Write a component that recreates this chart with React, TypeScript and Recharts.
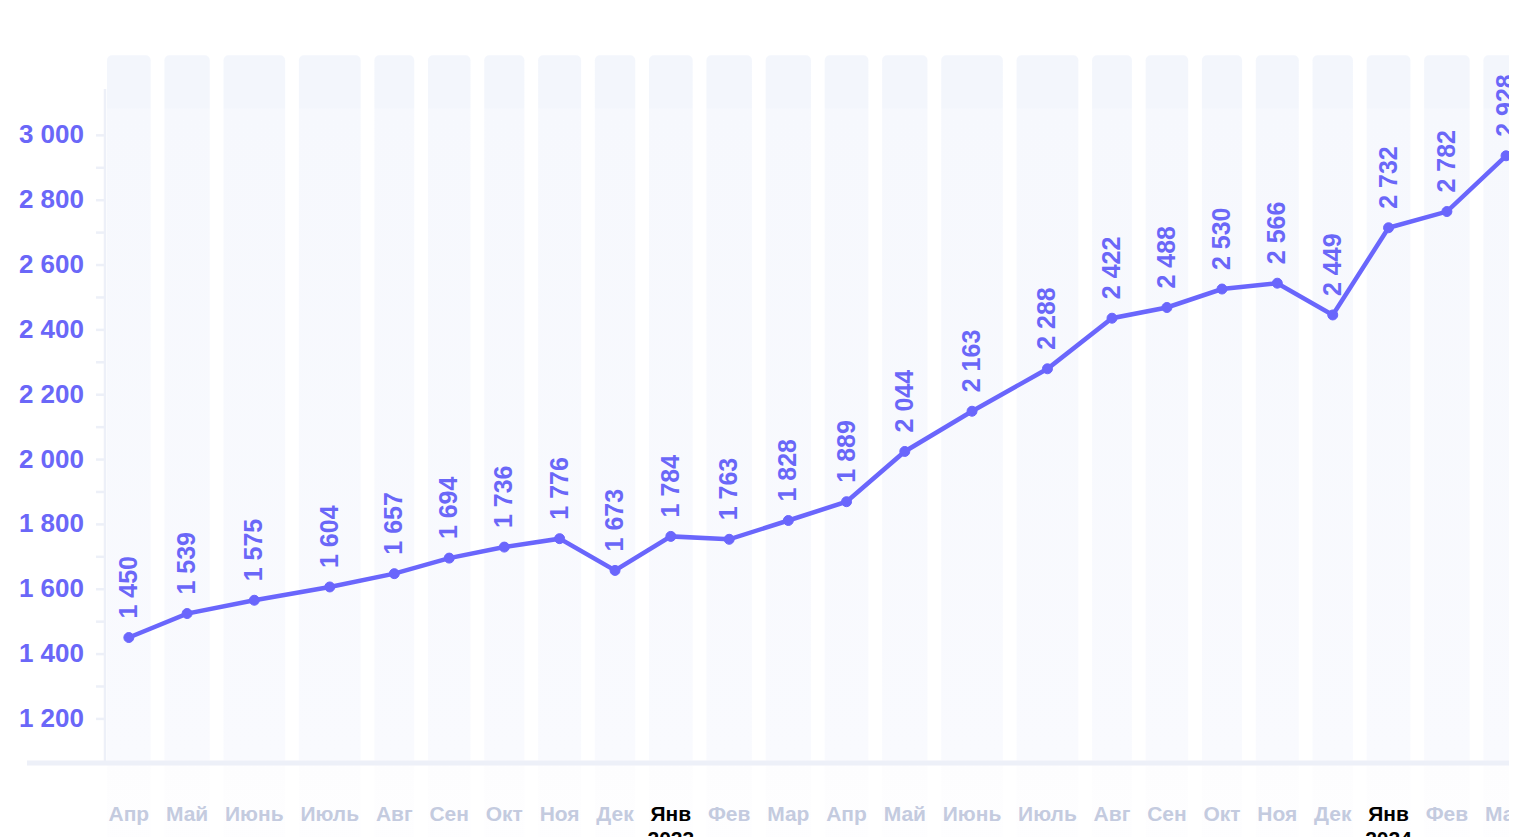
import React from "react";
import {
  Line,
  LineChart,
  LabelList,
  Rectangle,
  ReferenceArea,
  ReferenceLine,
  XAxis,
  YAxis,
} from "recharts";

const months = [
  "Апр", "Май", "Июнь", "Июль", "Авг", "Сен", "Окт", "Ноя", "Дек", "Янв", "Фев", "Мар",
  "Апр", "Май", "Июнь", "Июль", "Авг", "Сен", "Окт", "Ноя", "Дек", "Янв", "Фев", "Мар",
];
const years = ["", "", "", "", "", "", "", "", "", "2023", "", "", "", "", "", "", "", "", "", "", "", "2024", "", ""];

// plotted values (read from point positions)
const values = [
  1451, 1525, 1566, 1607, 1648, 1696, 1730, 1756, 1658, 1763, 1754, 1812,
  1870, 2025, 2149, 2280, 2436, 2469, 2526, 2544, 2446, 2715, 2765, 2937,
];
// printed labels above the points
const labels = [
  1450, 1539, 1575, 1604, 1657, 1694, 1736, 1776, 1673, 1784, 1763, 1828,
  1889, 2044, 2163, 2288, 2422, 2488, 2530, 2566, 2449, 2732, 2782, 2928,
];
const yTicks = [1200, 1300, 1400, 1500, 1600, 1700, 1800, 1900, 2000, 2100, 2200, 2300, 2400, 2500, 2600, 2700, 2800, 2900, 3000];

const FONT = "'Liberation Sans', Arial, Helvetica, sans-serif";
const LINE = "#6a66fc";
const BLUE_TEXT = "#6a67f8";
const MUTED = "#c4cbdf";
const AXIS = "#edf0f8";

const Y_MIN = 1064;
const Y_MAX = 3143;

const fmt = (n: number) => String(n).replace(/\B(?=(\d{3})+(?!\d))/g, " ");

function measure(text: string) {
  const ctx = document.createElement("canvas").getContext("2d");
  if (!ctx) return text.length * 13;
  ctx.font = `bold 21px ${FONT}`;
  return ctx.measureText(text).width;
}

// each month gets a column as wide as its label
const colWidths = months.map((m) => measure(m) + 3);
const GAP = 13.75;
let cursor = 2;
const positions = colWidths.map((w) => {
  const c = cursor + w / 2;
  cursor += w + GAP;
  return c;
});
const xMax = cursor;

const chartData = months.map((m, i) => ({
  pos: positions[i],
  value: values[i],
  label: labels[i],
  month: m,
  year: years[i],
}));

const YTick = (props: any) => {
  const { x, y, payload } = props;
  if (payload.value % 200 !== 0) return null;
  return (
    <text x={x} y={y} dy={8} textAnchor="end" fill={BLUE_TEXT} fontSize={26} fontWeight={700} fontFamily={FONT}>
      {fmt(payload.value)}
    </text>
  );
};

const XTick = (props: any) => {
  const { x, y, index } = props;
  const d = chartData[index];
  if (!d) return null;
  const hasYear = !!d.year;
  return (
    <g>
      <text x={x} y={y + 58} textAnchor="middle" fill={hasYear ? "#000" : MUTED} fontSize={21} fontWeight={700} fontFamily={FONT}>
        {d.month}
      </text>
      {hasYear && (
        <text x={x} y={y + 83} textAnchor="middle" fill="#000" fontSize={21} fontWeight={700} fontFamily={FONT}>
          {d.year}
        </text>
      )}
    </g>
  );
};

const PointLabel = (props: any) => {
  const { x, y, value } = props;
  return (
    <text
      transform={`translate(${x},${y - 19}) rotate(-90)`}
      dy={8}
      textAnchor="start"
      fill={BLUE_TEXT}
      fontSize={25}
      fontWeight={700}
      fontFamily={FONT}
    >
      {fmt(Number(value))}
    </text>
  );
};

export default function App() {
  return (
    <div style={{ width: 1509, height: 829, overflow: "hidden", fontFamily: FONT }}>
      <LineChart
        width={97 + xMax}
        height={870}
        data={chartData}
        margin={{ top: 81, right: 0, left: 0, bottom: 15 }}
      >
        <defs>
          <linearGradient id="colFill" x1="0" y1="0" x2="0" y2="1">
            <stop offset="0" stopColor="#f3f6fc" />
            <stop offset="0.066" stopColor="#f3f6fc" />
            <stop offset="0.067" stopColor="#f6f8fd" />
            <stop offset="0.88" stopColor="#f9fafe" />
            <stop offset="0.885" stopColor="#fdfdfe" />
            <stop offset="1" stopColor="#fefeff" />
          </linearGradient>
        </defs>
        {chartData.map((d, i) => (
          <ReferenceArea
            key={i}
            x1={d.pos - colWidths[i] / 2}
            x2={d.pos + colWidths[i] / 2}
            y1={780}
            y2={3247}
            ifOverflow="visible"
            fill="url(#colFill)"
            fillOpacity={1}
            stroke="none"
            shape={(p: any) => <Rectangle {...p} radius={[5, 5, 0, 0]} />}
          />
        ))}
        <XAxis
          type="number"
          dataKey="pos"
          domain={[0, xMax]}
          ticks={positions}
          interval={0}
          axisLine={false}
          tickLine={false}
          tickSize={0}
          tickMargin={0}
          height={100}
          tick={<XTick />}
        />
        <YAxis
          type="number"
          domain={[Y_MIN, Y_MAX]}
          ticks={yTicks}
          interval={0}
          width={97}
          axisLine={{ stroke: AXIS, strokeWidth: 2.5 }}
          tickLine={{ stroke: AXIS, strokeWidth: 2.5 }}
          tickSize={9}
          tickMargin={12}
          tick={<YTick />}
        />
        <ReferenceLine
          segment={[
            { x: -78, y: Y_MIN },
            { x: xMax, y: Y_MIN },
          ]}
          stroke={AXIS}
          strokeWidth={5}
          ifOverflow="visible"
        />
        <Line
          type="linear"
          dataKey="value"
          stroke={LINE}
          strokeWidth={4.5}
          dot={{ r: 5, fill: LINE, stroke: LINE, strokeWidth: 1 }}
          activeDot={false}
          isAnimationActive={false}
        >
          <LabelList dataKey="label" content={<PointLabel />} />
        </Line>
      </LineChart>
    </div>
  );
}
